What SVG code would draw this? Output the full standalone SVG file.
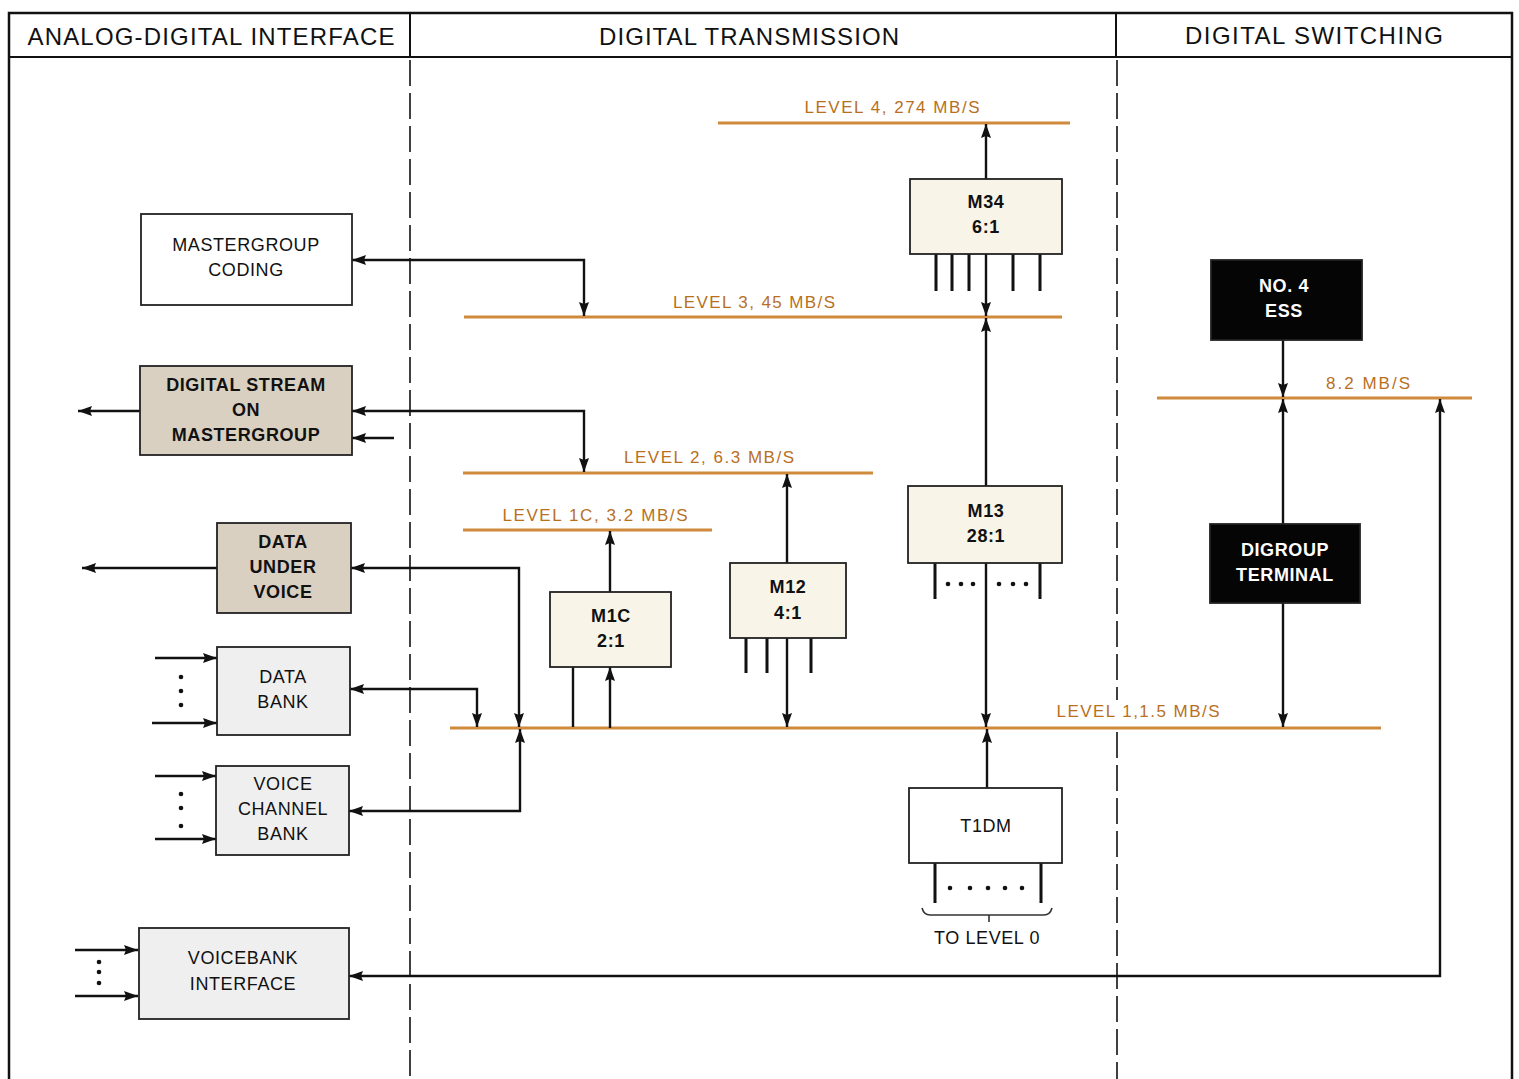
<svg xmlns="http://www.w3.org/2000/svg" width="1519" height="1079" viewBox="0 0 1519 1079">
<defs>
<marker id="ah" viewBox="0 0 14 10" refX="14" refY="5" markerWidth="14" markerHeight="10" markerUnits="userSpaceOnUse" orient="auto-start-reverse"><path d="M0,0 L14,5 L0,10 L2,5 z" fill="#111"/></marker>
<style>
.frame{fill:none;stroke:#111;stroke-width:2.5}
.hdr{font-family:"Liberation Sans",Arial,sans-serif;font-size:24px;fill:#111;text-anchor:middle}
.dash{stroke:#111;stroke-width:1.6;stroke-dasharray:26 7;fill:none}
.box{stroke:#222;stroke-width:1.8}
.white{fill:#ffffff}
.tan{fill:#d9d0c1}
.gray{fill:#efefef}
.cream{fill:#f8f5e8}
.black{fill:#050505}
.t{font-family:"Liberation Sans",Arial,sans-serif;font-size:18px;fill:#111;text-anchor:middle;letter-spacing:0.6px}
.b{font-weight:bold}
.w{fill:#ffffff;font-weight:bold}
.lvl{stroke:#cf8a3c;stroke-width:3;fill:none}
.lbl{font-family:"Liberation Sans",Arial,sans-serif;font-size:17px;fill:#b8701f;text-anchor:middle}
.c{stroke:#111;stroke-width:2.4;fill:none}
.ca{stroke:#111;stroke-width:2.4;fill:none;marker-end:url(#ah)}
.cb{stroke:#111;stroke-width:2.4;fill:none;marker-start:url(#ah);marker-end:url(#ah)}
.leg{stroke:#111;stroke-width:3;fill:none}
.dot{fill:#111}
</style>
</defs>
<rect width="1519" height="1079" fill="#ffffff"/>

<g id="frame">
<path class="frame" d="M9,1079 V13 H1512 V1079"/>
<line x1="9" y1="57" x2="1512" y2="57" stroke="#111" stroke-width="2"/>
<line x1="410" y1="13" x2="410" y2="57" stroke="#111" stroke-width="2"/>
<line x1="1116" y1="13" x2="1116" y2="57" stroke="#111" stroke-width="2"/>
<line class="dash" x1="410" y1="60" x2="410" y2="1079"/>
<line class="dash" x1="1117" y1="60" x2="1117" y2="700"/>
<line class="dash" x1="1117" y1="732" x2="1117" y2="1079"/>
<text class="hdr" x="211" y="45" textLength="367" lengthAdjust="spacing">ANALOG-DIGITAL INTERFACE</text>
<text class="hdr" x="749" y="45" textLength="300" lengthAdjust="spacing">DIGITAL TRANSMISSION</text>
<text class="hdr" x="1314" y="44" textLength="258" lengthAdjust="spacing">DIGITAL SWITCHING</text>
</g>

<g id="levels">
<line class="lvl" x1="718" y1="123" x2="1070" y2="123"/>
<text class="lbl" x="892" y="113" textLength="175" lengthAdjust="spacing">LEVEL 4, 274 MB/S</text>
<line class="lvl" x1="464" y1="317" x2="1062" y2="317"/>
<text class="lbl" x="754" y="308" textLength="162" lengthAdjust="spacing">LEVEL 3, 45 MB/S</text>
<line class="lvl" x1="463" y1="473" x2="873" y2="473"/>
<text class="lbl" x="709" y="463" textLength="170" lengthAdjust="spacing">LEVEL 2, 6.3 MB/S</text>
<line class="lvl" x1="463" y1="530" x2="712" y2="530"/>
<text class="lbl" x="595" y="521" textLength="185" lengthAdjust="spacing">LEVEL 1C, 3.2 MB/S</text>
<line class="lvl" x1="450" y1="728" x2="1381" y2="728"/>
<text class="lbl" x="1138" y="717" textLength="163" lengthAdjust="spacing">LEVEL 1,1.5 MB/S</text>
<line class="lvl" x1="1157" y1="398" x2="1472" y2="398"/>
<text class="lbl" x="1368" y="389" textLength="84" lengthAdjust="spacing">8.2 MB/S</text>
</g>

<g id="connectors">
<path class="cb" d="M352,260 H584 V316"/>
<path class="cb" d="M352,411 H584 V472"/>
<path class="ca" d="M394,438 H352"/>
<path class="ca" d="M140,411 H78"/>
<path class="cb" d="M351,568 H519 V727"/>
<path class="ca" d="M217,568 H82"/>
<path class="cb" d="M350,689 H477 V727"/>
<path class="ca" d="M155,658 H217"/>
<path class="ca" d="M152,723 H217"/>
<path class="cb" d="M349,811 H520 V729"/>
<path class="ca" d="M155,776 H216"/>
<path class="ca" d="M155,839 H216"/>
<path class="cb" d="M349,976 H1440 V399"/>
<path class="ca" d="M75,950 H138"/>
<path class="ca" d="M75,996 H138"/>
<path class="ca" d="M610,592 V531"/>
<path class="c" d="M573,667 V727"/>
<path class="ca" d="M610,728 V667"/>
<path class="ca" d="M787,563 V474"/>
<path class="ca" d="M787,638 V727"/>
<path class="leg" d="M746,638 V673 M767,638 V673 M811,638 V673"/>
<path class="ca" d="M986,179 V124"/>
<path class="ca" d="M986,254 V316"/>
<path class="leg" d="M936,254 V291 M952,254 V291 M969,254 V291 M1013,254 V291 M1040,254 V291"/>
<path class="ca" d="M986,486 V318"/>
<path class="ca" d="M986,563 V727"/>
<path class="leg" d="M935,563 V599 M1040,563 V599"/>
<path class="ca" d="M987,788 V729"/>
<path class="leg" d="M935,863 V903 M1041,863 V903"/>
<path class="ca" d="M1283,340 V397"/>
<path class="ca" d="M1283,524 V399"/>
<path class="ca" d="M1283,603 V727"/>
</g>

<g id="dots">
<circle class="dot" cx="181" cy="677" r="2.3"/><circle class="dot" cx="181" cy="691" r="2.3"/><circle class="dot" cx="181" cy="705" r="2.3"/>
<circle class="dot" cx="181" cy="794" r="2.3"/><circle class="dot" cx="181" cy="808" r="2.3"/><circle class="dot" cx="181" cy="826" r="2.3"/>
<circle class="dot" cx="99" cy="962" r="2.3"/><circle class="dot" cx="99" cy="972" r="2.3"/><circle class="dot" cx="99" cy="983" r="2.3"/>
<circle class="dot" cx="948" cy="584" r="2.3"/><circle class="dot" cx="961" cy="584" r="2.3"/><circle class="dot" cx="973" cy="584" r="2.3"/>
<circle class="dot" cx="999" cy="584" r="2.3"/><circle class="dot" cx="1013" cy="584" r="2.3"/><circle class="dot" cx="1026" cy="584" r="2.3"/>
<circle class="dot" cx="950" cy="888" r="2.3"/><circle class="dot" cx="970" cy="888" r="2.3"/><circle class="dot" cx="988" cy="888" r="2.3"/><circle class="dot" cx="1005" cy="888" r="2.3"/><circle class="dot" cx="1022" cy="888" r="2.3"/>
</g>

<g id="bracket">
<path d="M922,908 Q924,915 930,915 H1044 Q1050,915 1052,908" fill="none" stroke="#333" stroke-width="1.6"/>
<line x1="989" y1="915" x2="989" y2="922" stroke="#333" stroke-width="1.6"/>
<text class="t" x="987" y="944">TO LEVEL 0</text>
</g>

<g id="mastergroup-coding">
<rect class="box white" x="141" y="214" width="211" height="91"/>
<text class="t" x="246" y="251">MASTERGROUP</text>
<text class="t" x="246" y="276">CODING</text>
</g>
<g id="digital-stream">
<rect class="box tan" x="140" y="366" width="212" height="89"/>
<text class="t b" x="246" y="391">DIGITAL STREAM</text>
<text class="t b" x="246" y="416">ON</text>
<text class="t b" x="246" y="441">MASTERGROUP</text>
</g>
<g id="data-under-voice">
<rect class="box tan" x="217" y="523" width="134" height="90"/>
<text class="t b" x="283" y="548">DATA</text>
<text class="t b" x="283" y="573">UNDER</text>
<text class="t b" x="283" y="598">VOICE</text>
</g>
<g id="data-bank">
<rect class="box gray" x="217" y="647" width="133" height="88"/>
<text class="t" x="283" y="683">DATA</text>
<text class="t" x="283" y="708">BANK</text>
</g>
<g id="voice-channel-bank">
<rect class="box gray" x="216" y="766" width="133" height="89"/>
<text class="t" x="283" y="790">VOICE</text>
<text class="t" x="283" y="815">CHANNEL</text>
<text class="t" x="283" y="840">BANK</text>
</g>
<g id="voicebank-interface">
<rect class="box gray" x="139" y="928" width="210" height="91"/>
<text class="t" x="243" y="964">VOICEBANK</text>
<text class="t" x="243" y="990">INTERFACE</text>
</g>
<g id="m34">
<rect class="box cream" x="910" y="179" width="152" height="75"/>
<text class="t b" x="986" y="208">M34</text>
<text class="t b" x="986" y="233">6:1</text>
</g>
<g id="m1c">
<rect class="box cream" x="550" y="592" width="121" height="75"/>
<text class="t b" x="611" y="622">M1C</text>
<text class="t b" x="611" y="647">2:1</text>
</g>
<g id="m12">
<rect class="box cream" x="730" y="563" width="116" height="75"/>
<text class="t b" x="788" y="593">M12</text>
<text class="t b" x="788" y="619">4:1</text>
</g>
<g id="m13">
<rect class="box cream" x="908" y="486" width="154" height="77"/>
<text class="t b" x="986" y="517">M13</text>
<text class="t b" x="986" y="542">28:1</text>
</g>
<g id="t1dm">
<rect class="box white" x="909" y="788" width="153" height="75"/>
<text class="t" x="986" y="832">T1DM</text>
</g>
<g id="no4-ess">
<rect class="box black" x="1211" y="260" width="151" height="80"/>
<text class="t w" x="1284" y="292">NO. 4</text>
<text class="t w" x="1284" y="317">ESS</text>
</g>
<g id="digroup-terminal">
<rect class="box black" x="1210" y="524" width="150" height="79"/>
<text class="t w" x="1285" y="556">DIGROUP</text>
<text class="t w" x="1285" y="581">TERMINAL</text>
</g>
</svg>
